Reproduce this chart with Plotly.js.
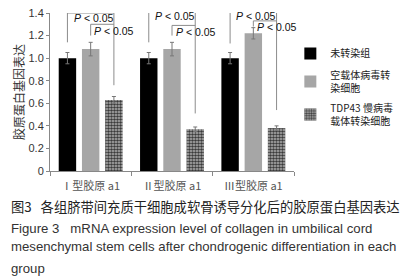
<!DOCTYPE html>
<html><head><meta charset="utf-8">
<script src="https://cdn.plot.ly/plotly-3.0.1.min.js"></script>
<style>html,body{margin:0;padding:0;background:#fff;}#chart{width:410px;height:279px;}</style>
</head><body><div id="chart"></div>
<script>
// ---- data ----
const categories = ['Ⅰ型胶原 a1', 'Ⅱ型胶原 a1', 'Ⅲ型胶原 a1'];
const seriesNames = ['未转染组', '空载体病毒转<br>染细胞', 'TDP43 慢病毒<br>载体转染细胞'];
const untransfected = [1.00, 1.00, 1.00];
const untransfectedErr = [0.05, 0.05, 0.05];
const emptyVector = [1.08, 1.08, 1.22];
const emptyVectorErr = [0.06, 0.06, 0.05];
const tdp43 = [0.63, 0.37, 0.38];
const tdp43Err = [0.03, 0.02, 0.02];
const yTickVals = [0, 0.2, 0.4, 0.6, 0.8, 1.0, 1.2, 1.4];
const yTickText = ['0', '0.2', '0.4', '0.6', '0.8', '1.0', '1.2', '1.4'];
const sigLabel = '<i>P</i> &lt; 0.05';
// bracket levels (y values) per group
const bigTop = [1.40, 1.41, 1.41];
const bigLeftBottom = [1.14, 1.14, 1.13];
const bigRightBottom = [0.76, 0.51, 0.54];
const smallTop = [1.30, 1.29, 1.33];
const smallLeftBottom = [1.20, 1.20, 1.28];

const captionCN = '图3&nbsp;&nbsp;&nbsp;各组脐带间充质干细胞成软骨诱导分化后的胶原蛋白基因表达';
const captionEN = ['Figure 3&nbsp;&nbsp;&nbsp;mRNA expression level of collagen in umbilical cord',
  'mesenchymal stem cells after chondrogenic differentiation in each',
  'group'];

const errStyle = (arr) => ({type: 'data', array: arr, visible: true, color: '#777', thickness: 1, width: 2});
const latin = 'Liberation Sans, Arial, sans-serif';
const cjk = 'Noto Sans CJK SC, sans-serif';

const traces = [
  {type: 'bar', x: categories, y: untransfected, name: seriesNames[0], error_y: errStyle(untransfectedErr),
   marker: {color: '#000000', line: {width: 0}}, legendgroup: 'a'},
  {type: 'bar', x: categories, y: emptyVector, name: seriesNames[1], error_y: errStyle(emptyVectorErr),
   marker: {color: '#a6a6a6', line: {width: 0}}, legendgroup: 'b'},
  {type: 'bar', x: categories, y: tdp43, name: seriesNames[2], error_y: errStyle(tdp43Err),
   marker: {color: '#8a8a8a', line: {width: 0}, pattern: {shape: '.', size: 3, solidity: 0.55, fgcolor: '#3a3a3a', bgcolor: '#b4b4b4', fillmode: 'replace'}}, legendgroup: 'c'}
];

// bar offsets for group layout
const bargap = 0.143, bargroupgap = 0.25;
const slot = (1 - bargap) / 3;
const offs = [-slot, 0, slot];

const shapes = [];
const annotations = [];
const lineStyle = {color: '#8c8c8c', width: 1};
for (let g = 0; g < categories.length; g++) {
  const xl = g + offs[0], xm = g + offs[1], xr = g + offs[2];
  shapes.push({type: 'path', xref: 'x', yref: 'y', line: lineStyle,
    path: `M${xl},${bigLeftBottom[g]} L${xl},${bigTop[g]} L${xr},${bigTop[g]} L${xr},${bigRightBottom[g]}`});
  shapes.push({type: 'path', xref: 'x', yref: 'y', line: lineStyle,
    path: `M${xm},${smallLeftBottom[g]} L${xm},${smallTop[g]} L${xr},${smallTop[g]}`});
  annotations.push({xref: 'x', yref: 'y', x: xl + 0.05, y: bigTop[g] - 0.04, xanchor: 'left', yanchor: 'middle',
    text: sigLabel, showarrow: false, font: {family: latin, size: 10.5, color: '#111'}});
  annotations.push({xref: 'x', yref: 'y', x: xm + 0.02, y: smallTop[g] - 0.058, xanchor: 'left', yanchor: 'middle',
    text: sigLabel, showarrow: false, font: {family: latin, size: 10.5, color: '#111'}});
}
const capX = -42 / 252;
const capY = (px) => (171 - px) / 158;
annotations.push({xref: 'paper', yref: 'paper', x: capX, y: capY(206), xanchor: 'left', yanchor: 'middle',
  text: captionCN, showarrow: false, font: {family: cjk, size: 13.3, color: '#222'}});
const enY = [228, 247, 268];
captionEN.forEach((t, i) => annotations.push({xref: 'paper', yref: 'paper', x: capX, y: capY(enY[i]), xanchor: 'left', yanchor: 'middle',
  text: t, showarrow: false, font: {family: latin, size: 13.2, color: '#333'}}));

const layout = {
  width: 410, height: 279,
  margin: {l: 50, r: 108, t: 13, b: 108},
  paper_bgcolor: '#fff', plot_bgcolor: '#fff',
  barmode: 'group', bargap: bargap, bargroupgap: bargroupgap,
  showlegend: true,
  legend: {x: 0.985, y: 0.835, xanchor: 'left', yanchor: 'top', font: {family: cjk, size: 10, color: '#222'},
    itemwidth: 30, tracegroupgap: 4, bgcolor: 'rgba(0,0,0,0)'},
  xaxis: {type: 'category', range: [-0.5, 2.5], tickson: 'boundaries', ticks: 'outside', ticklen: 4, tickcolor: '#888',
    showline: true, linecolor: '#888', linewidth: 1, showgrid: false, zeroline: false,
    tickfont: {family: cjk, size: 11, color: '#555'}, ticklabelstandoff: 5},
  yaxis: {range: [0, 1.4], tickvals: yTickVals, ticktext: yTickText, ticks: 'outside', ticklen: 3, tickcolor: '#888',
    showline: true, linecolor: '#888', linewidth: 1, showgrid: false, zeroline: false,
    tickfont: {family: latin, size: 11, color: '#333'},
    title: {text: '胶原蛋白基因表达', font: {family: cjk, size: 12, color: '#333'}, standoff: 1}},
  shapes: shapes,
  annotations: annotations
};
Plotly.newPlot('chart', traces, layout, {displayModeBar: false, staticPlot: true});
</script></body></html>
